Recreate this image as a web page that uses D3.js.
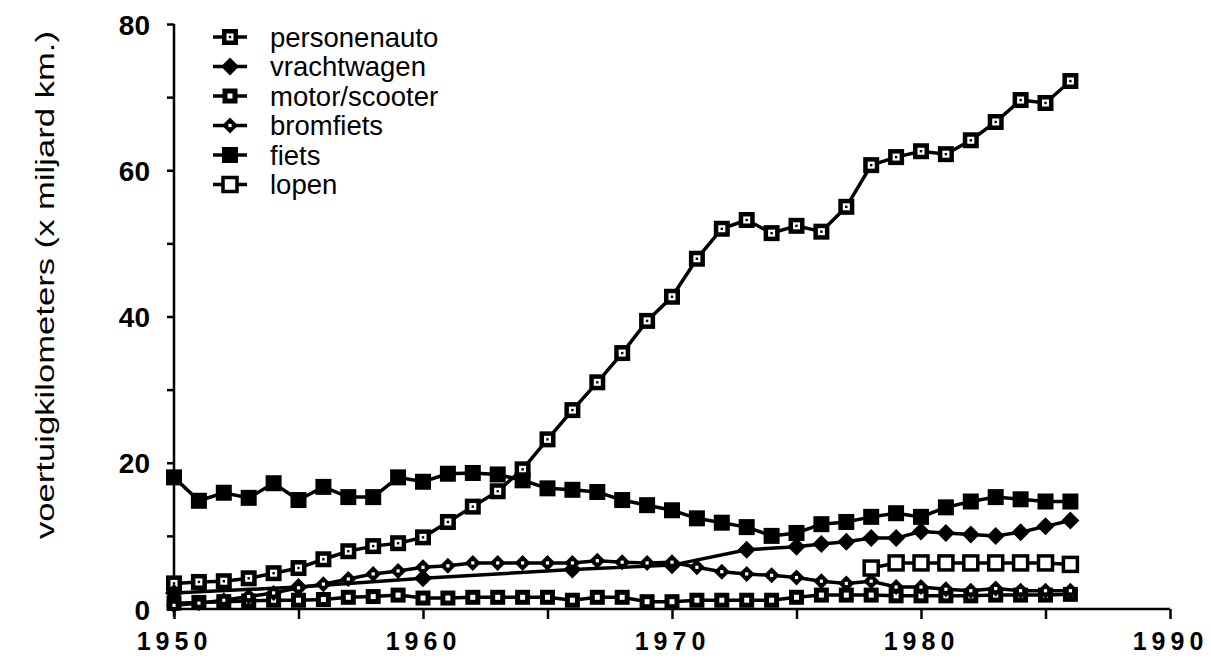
<!DOCTYPE html>
<html lang="nl">
<head>
<meta charset="UTF-8">
<title>Voertuigkilometers</title>
<script src="https://d3js.org/d3.v7.min.js"></script>
<style>
    body { margin: 0; background: #fff; }
    text { font-family: "Liberation Sans", Arial, sans-serif; fill: #000; }
    .tick-label { font-size: 28px; font-weight: bold; }
    .x-label { font-size: 25px; }
    .legend text { font-size: 27.5px; }
</style>
</head>
<body>
<script>
    const years = [1950, 1951, 1952, 1953, 1954, 1955, 1956, 1957, 1958, 1959,
        1960, 1961, 1962, 1963, 1964, 1965, 1966, 1967, 1968, 1969,
        1970, 1971, 1972, 1973, 1974, 1975, 1976, 1977, 1978, 1979,
        1980, 1981, 1982, 1983, 1984, 1985, 1986];

    const personenauto = [3.5, 3.7, 3.8, 4.2, 4.9, 5.6, 6.8, 7.9, 8.6, 9.0,
        9.8, 11.9, 14.0, 16.1, 19.1, 23.2, 27.2, 31.0, 35.0, 39.4,
        42.7, 47.9, 52.0, 53.2, 51.4, 52.4, 51.6, 55.0, 60.7, 61.8,
        62.6, 62.2, 64.1, 66.6, 69.6, 69.2, 72.2];

    const fiets = [18.0, 14.8, 15.9, 15.2, 17.2, 14.9, 16.7, 15.3, 15.3, 18.0,
        17.4, 18.5, 18.6, 18.4, 17.6, 16.5, 16.3, 16.0, 14.9, 14.2,
        13.5, 12.4, 11.8, 11.2, 10.0, 10.4, 11.6, 11.9, 12.6, 13.1,
        12.6, 13.9, 14.7, 15.3, 15.0, 14.7, 14.7];

    const bromfiets = [0.5, 0.8, 1.2, 1.7, 2.2, 2.9, 3.4, 4.1, 4.8, 5.2,
        5.7, 5.9, 6.3, 6.3, 6.3, 6.3, 6.3, 6.6, 6.4, 6.3,
        6.4, 5.7, 5.1, 4.8, 4.6, 4.3, 3.8, 3.5, 3.8, 3.0,
        3.0, 2.7, 2.5, 2.8, 2.5, 2.5, 2.5];

    const motorScooter = [0.8, 0.9, 1.0, 1.1, 1.2, 1.2, 1.3, 1.6, 1.7, 1.9,
        1.5, 1.5, 1.6, 1.6, 1.6, 1.6, 1.2, 1.6, 1.6, 1.0,
        1.0, 1.2, 1.2, 1.2, 1.2, 1.6, 1.9, 1.9, 1.9, 1.8,
        1.8, 1.8, 1.8, 1.9, 1.9, 1.9, 2.0];

    // vrachtwagen has fewer points before 1975
    const vrachtYears = [1950, 1955, 1960, 1966, 1970, 1973, 1975, 1976, 1977, 1978,
        1979, 1980, 1981, 1982, 1983, 1984, 1985, 1986];
    const vrachtwagen = [2.2, 3.0, 4.2, 5.4, 6.0, 8.1, 8.5, 8.9, 9.2, 9.7,
        9.7, 10.6, 10.4, 10.2, 10.0, 10.5, 11.3, 12.1];

    const lopenYears = [1978, 1979, 1980, 1981, 1982, 1983, 1984, 1985, 1986];
    const lopen = [5.6, 6.3, 6.3, 6.3, 6.3, 6.3, 6.3, 6.3, 6.1];

    const yTicks = [0, 20, 40, 60, 80];
    const xTicks = [1950, 1960, 1970, 1980, 1990];

    const series = [
        { name: 'personenauto', xs: years, ys: personenauto, marker: 'dotSquare' },
        { name: 'vrachtwagen', xs: vrachtYears, ys: vrachtwagen, marker: 'diamond' },
        { name: 'motor/scooter', xs: years, ys: motorScooter, marker: 'smallDotSquare' },
        { name: 'bromfiets', xs: years, ys: bromfiets, marker: 'dotDiamond' },
        { name: 'fiets', xs: years, ys: fiets, marker: 'square' },
        { name: 'lopen', xs: lopenYears, ys: lopen, marker: 'openSquare' }
    ];

    const width = 1211, height = 663;
    const svg = d3.select('body').append('svg')
        .attr('width', width)
        .attr('height', height);

    const x = d3.scaleLinear().domain([1950, 1990]).range([174, 1170]);
    const y = d3.scaleLinear().domain([0, 80]).range([609, 24]);

    // axes
    const xAxis = d3.axisBottom(x)
        .tickValues(d3.range(1950, 1991, 5))
        .tickSize(10)
        .tickFormat(d => xTicks.includes(d) ? String(d) : '');
    const gx = svg.append('g')
        .attr('transform', `translate(0,${y(0)})`)
        .call(xAxis);
    gx.select('.domain').attr('d', `M${x(1950)},0H${x(1990)}`);
    gx.selectAll('.tick text')
        .attr('class', 'tick-label x-label')
        .attr('y', 41)
        .attr('dy', null)
        .style('letter-spacing', '5px');

    const yAxis = d3.axisLeft(y)
        .tickValues(d3.range(0, 81, 10))
        .tickSize(7)
        .tickFormat(d => yTicks.includes(d) ? String(d) : '');
    const gy = svg.append('g')
        .attr('transform', `translate(${x(1950)},0)`)
        .call(yAxis);
    gy.select('.domain').attr('d', `M0,${y(80)}V${y(0) + 8}`);
    gy.selectAll('.tick text')
        .attr('class', 'tick-label')
        .attr('x', -24)
        .attr('dy', '0.36em');

    svg.selectAll('.domain, .tick line')
        .attr('stroke', '#000')
        .attr('stroke-width', 2.5);
    svg.selectAll('.tick text').attr('font-family', null).attr('font-size', null);

    svg.append('text')
        .attr('transform', `translate(54,285) rotate(-90)`)
        .attr('text-anchor', 'middle')
        .attr('textLength', 508)
        .attr('lengthAdjust', 'spacingAndGlyphs')
        .style('font-size', '26px')
        .text('voertuigkilometers (x miljard km.)');

    function drawMarker(g, type) {
        if (type === 'dotSquare') {
            g.append('rect').attr('x', -8).attr('y', -8).attr('width', 16).attr('height', 16).attr('fill', '#000');
            g.append('rect').attr('x', -3.5).attr('y', -3.5).attr('width', 7).attr('height', 7).attr('fill', '#fff');
            g.append('rect').attr('x', -1.2).attr('y', -1.2).attr('width', 2.4).attr('height', 2.4).attr('fill', '#000');
        } else if (type === 'smallDotSquare') {
            g.append('rect').attr('x', -7.5).attr('y', -7.5).attr('width', 15).attr('height', 15).attr('fill', '#000');
            g.append('rect').attr('x', -2.5).attr('y', -2.5).attr('width', 5).attr('height', 5).attr('fill', '#fff');
        } else if (type === 'square') {
            g.append('rect').attr('x', -8).attr('y', -8).attr('width', 16).attr('height', 16).attr('fill', '#000');
        } else if (type === 'openSquare') {
            g.append('rect').attr('x', -7).attr('y', -7).attr('width', 14).attr('height', 14)
                .attr('fill', '#fff').attr('stroke', '#000').attr('stroke-width', 3.5);
        } else if (type === 'diamond') {
            g.append('path').attr('d', 'M0,-9L9,0L0,9L-9,0Z').attr('fill', '#000');
        } else if (type === 'dotDiamond') {
            g.append('path').attr('d', 'M0,-8L8,0L0,8L-8,0Z').attr('fill', '#000');
            g.append('rect').attr('x', -1.6).attr('y', -1.6).attr('width', 3.2).attr('height', 3.2).attr('fill', '#fff');
        }
    }

    const line = d3.line().x(d => x(d[0])).y(d => y(d[1]));

    const plot = svg.append('g');
    series.forEach(s => {
        const pts = s.xs.map((yr, i) => [yr, s.ys[i]]);
        plot.append('path')
            .datum(pts)
            .attr('d', line)
            .attr('fill', 'none')
            .attr('stroke', '#000')
            .attr('stroke-width', 3.5);
        plot.append('g').selectAll('g')
            .data(pts)
            .enter().append('g')
            .attr('transform', d => `translate(${x(d[0])},${y(d[1])})`)
            .each(function () { drawMarker(d3.select(this), s.marker); });
    });

    // legend
    const legend = svg.append('g').attr('class', 'legend')
        .attr('transform', 'translate(230,37)');
    series.forEach((s, i) => {
        const row = legend.append('g').attr('transform', `translate(0,${i * 29.5})`);
        row.append('line').attr('x1', -17).attr('x2', 17)
            .attr('stroke', '#000').attr('stroke-width', 3.5);
        drawMarker(row.append('g'), s.marker);
        row.append('text').attr('x', 40).attr('dy', '0.36em').text(s.name);
    });
</script>
</body>
</html>
